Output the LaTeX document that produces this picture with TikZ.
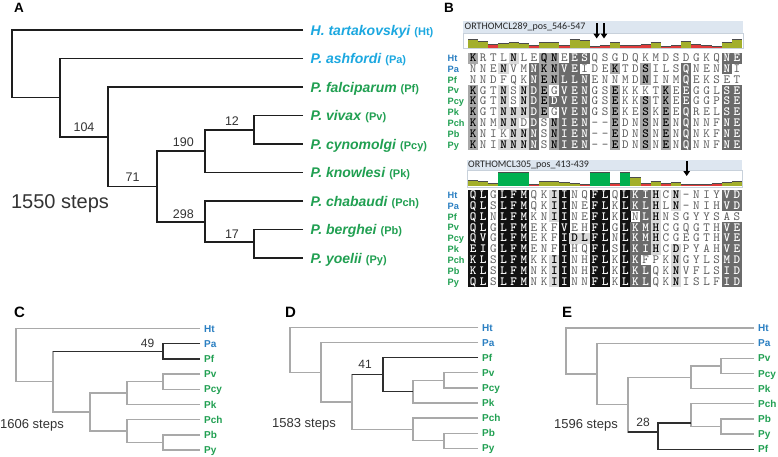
\documentclass[tikz,border=0pt]{standalone}
\usepackage{fontspec}
\setmainfont{Liberation Sans}
\newfontfamily\seqfont{lmmono10-regular.otf}[BoldFont=lmmonolt10-bold.otf]
\newfontfamily\hdrfont{Carlito}
\usepackage{xstring}
\usetikzlibrary{calc, positioning, arrows.meta}
\definecolor{TreeDark}{HTML}{1E1E1E}
\definecolor{TreeGrey}{HTML}{A9A9A9}
\definecolor{TreeHl}{HTML}{2E2E2E}
\definecolor{HaemoBlue}{HTML}{1CA8E0}
\definecolor{TaxonBlue}{HTML}{2A7FC2}
\definecolor{TaxonGreen}{HTML}{21A052}
\definecolor{LabelDark}{HTML}{333333}
\definecolor{BarBg}{HTML}{DDE6F0}
\definecolor{BarFrame}{HTML}{C8D1DB}
\definecolor{HistO}{HTML}{A3AF2B}
\definecolor{HistR}{HTML}{E03B3B}
\definecolor{HistG}{HTML}{00B050}
\definecolor{ShadeA}{HTML}{D9D9D9}
\definecolor{ShadeB}{HTML}{A8A8A8}
\definecolor{ShadeC}{HTML}{6B6B6B}
\definecolor{ShadeD}{HTML}{121212}
\definecolor{SeqGrey}{HTML}{5C5C5C}

\newcommand{\taxon}[2]{\textit{#1} {\fontsize{11}{12}\selectfont(#2)}}

% one alignment row: prefix, row name, y, residues, shade levels
\newcommand{\alnrow}[5]{%
  \foreach \col in {1,...,27}{%
    \StrChar{#4}{\col}[\resid]%
    \StrChar{#5}{\col}[\shv]%
    \ifcase\shv\relax \def\cellbg{white}\def\cellfg{SeqGrey}%
    \or \def\cellbg{ShadeA}\def\cellfg{black}%
    \or \def\cellbg{ShadeB}\def\cellfg{black}%
    \or \def\cellbg{ShadeC}\def\cellfg{white}%
    \else \def\cellbg{ShadeD}\def\cellfg{white}\fi
    \ifnum\shv>0 \fill[\cellbg] ({468+(\col-1)*10.15-0.1}, {#3-5.5}) rectangle ++(10.35,11.05);\fi
    \node[cell, text=\cellfg] (#1#2c\col) at ({468+(\col-0.5)*10.15}, {#3}) {\ifnum\shv>0 \bfseries\fi\resid};
  }}

\begin{document}
\begin{tikzpicture}[x=1pt, y=-1pt,
    treeA/.style={draw=TreeDark, line width=1.6pt},
    br/.style={draw=TreeGrey, line width=1.3pt},
    hl/.style={draw=TreeHl, line width=1.3pt},
    tipA/.style={anchor=west, inner xsep=7.5pt, inner ysep=0pt, text height=10pt, text depth=0pt, font=\bfseries\fontsize{14}{16}\selectfont},
    tip/.style={anchor=west, inner xsep=4pt, inner ysep=0pt, text height=7.2pt, text depth=0pt, font=\bfseries\fontsize{10}{12}\selectfont},
    boot/.style={above=4pt, inner sep=0.5pt, text=LabelDark, font=\fontsize{12.5}{14}\selectfont},
    bootsm/.style={above=4pt, inner sep=0.5pt, text=LabelDark, font=\fontsize{12}{14}\selectfont},
    stepsbig/.style={text=LabelDark, inner sep=0pt, font=\fontsize{20}{22}\selectfont},
    stepssm/.style={anchor=west, text=LabelDark, inner sep=0pt, font=\fontsize{13}{15}\selectfont},
    panel/.style={inner sep=0pt, font=\bfseries\fontsize{15}{17}\selectfont},
    hdrbar/.style={anchor=north west, fill=BarBg, inner sep=0pt},
    hdrtext/.style={anchor=west, inner sep=0pt, text=black!85, font=\hdrfont\fontsize{10}{12}\selectfont},
    rowlab/.style={anchor=west, inner sep=0pt, text height=6.6pt, text depth=0pt, font=\bfseries\fontsize{9.2}{10}\selectfont},
    cell/.style={inner sep=0pt, text height=7pt, text depth=0pt, font=\seqfont\fontsize{12.5}{12}\selectfont},
    seqarrow/.style={-{Triangle[length=5pt, width=6.5pt]}, line width=2.2pt, draw=black}]
  \useasboundingbox[fill=white] (0,0) rectangle (778,456);

  % Panel A
  \node[panel, font=\bfseries\fontsize{13.5}{15}\selectfont] (labA) at (19,8) {A};
  \node[tipA, text=HaemoBlue] (ht) at (303,30) {\taxon{H. tartakovskyi}{Ht}};
  \node[tipA, text=HaemoBlue] (pa) at (303,58.5) {\taxon{P. ashfordi}{Pa}};
  \node[tipA, text=TaxonGreen] (pf) at (303,87) {\taxon{P. falciparum}{Pf}};
  \node[tipA, text=TaxonGreen] (pv) at (303,115.5) {\taxon{P. vivax}{Pv}};
  \node[tipA, text=TaxonGreen] (pcy) at (303,144) {\taxon{P. cynomolgi}{Pcy}};
  \node[tipA, text=TaxonGreen] (pk) at (303,172.5) {\taxon{P. knowlesi}{Pk}};
  \node[tipA, text=TaxonGreen] (pch) at (303,201) {\taxon{P. chabaudi}{Pch}};
  \node[tipA, text=TaxonGreen] (pb) at (303,229.5) {\taxon{P. berghei}{Pb}};
  \node[tipA, text=TaxonGreen] (py) at (303,258) {\taxon{P. yoelii}{Py}};

  \coordinate (rootA) at (12,64);
  \coordinate (n1) at (60,97.6);
  \coordinate (n2) at (108,136.7);
  \coordinate (n3) at (157,186.5);
  \coordinate (n4) at (205,151);
  \coordinate (n5) at (254,129.75);
  \coordinate (n6) at (205,222);
  \coordinate (n7) at (254,242);

  \draw[treeA] (pv.west) -| (n5) |- (pcy.west);
  \draw[treeA] (n5) -| (n4) |- (pk.west);
  \draw[treeA] (pb.west) -| (n7) |- (py.west);
  \draw[treeA] (pch.west) -| (n6) |- (n7);
  \draw[treeA] (n4) -| (n3) |- (n6);
  \draw[treeA] (pf.west) -| (n2) |- (n3);
  \draw[treeA] (pa.west) -| (n1) |- (n2);
  \draw[treeA] (ht.west) -| (rootA) |- (n1);

  \path (n1 |- n2) -- (n2) node[boot, pos=0.5] (bs104) {104};
  \path (n2 |- n3) -- (n3) node[boot, pos=0.5] (bs71) {71};
  \path (n3 |- n4) -- (n4) node[boot, pos=0.55] (bs190) {190};
  \path (n4 |- n5) -- (n5) node[boot, pos=0.55] (bs12) {12};
  \path (n3 |- n6) -- (n6) node[boot, pos=0.55, above=3pt] (bs298) {298};
  \path (n6 |- n7) -- (n7) node[boot, pos=0.55, above=3pt] (bs17) {17};
  \node[stepsbig] (stepsA) at (60,204) {1550 steps};

  % Panel B
  \node[panel, font=\bfseries\fontsize{13.5}{15}\selectfont] (labB) at (449,8) {B};
  \node[hdrbar, minimum width=280pt, minimum height=12pt] (bar1) at (463,21) {};
  \node[hdrtext] (hdr1) at (464.5,27) {ORTHOMCL289\_pos\_546-547};
  \draw[BarFrame, line width=0.6pt] (463,33) rectangle (743,48.5);
  \foreach \hc/\hh [count=\i] in {O/9,O/7,R/4,O/5,O/6,O/5,R/3,O/6,O/6,R/3,O/9,O/8,R/2,R/3,O/6,R/3,R/3,R/4,O/6,R/2,R/3,O/7,R/4,R/3,R/2,O/6,O/9}{
    \fill[Hist\hc] ({468+(\i-1)*10.15},48) rectangle ++(10.15,-\hh);
    \draw[black!70, line width=0.6pt] ({468+(\i-1)*10.15},{48-\hh}) -- ++(10.15,0);
  }
  \coordinate (arrA1) at (596.7,23);
  \coordinate (arrA1e) at (596.7,38.5);
  \coordinate (arrA2) at (604,23);
  \coordinate (arrA2e) at (604,38.5);
  \draw[seqarrow] (arrA1) -- (arrA1e);
  \draw[seqarrow] (arrA2) -- (arrA2e);

  \foreach \rn/\rc/\seq/\shades [count=\rowno] in {
      Ht/TaxonBlue/KRTLNLEQNEESQSGDQKMDSDGKQNE/200010022033000000000000033,
      Pa/TaxonBlue/NNENVMNKNVEIDEKTDSILSQNENNI/000100322330002002000300030,
      Pf/TaxonGreen/NNDFQKNENLLNENNMDNINMQEKSET/000000322333000002000300000,
      Pv/TaxonGreen/KGTNSNDEGVENGSEKKKTKEEGGLSE/200101320333002000020300033,
      Pcy/TaxonGreen/KGTNSNDEDVENGSEKKSTKEEGGPSE/200101323333002002020300033,
      Pk/TaxonGreen/KGTNNNDEGVENGSEKESKEEQRELSE/200111320333002002020300033,
      Pch/TaxonGreen/KNMNNDDSNIEN--EDNSNENQNNFNE/200110302333002002020300033,
      Pb/TaxonGreen/KNIKNNNSNIEN--EDNSNENQNKFNE/200011302333002002020300033,
      Py/TaxonGreen/KNINNNNSNIEN--EDNSNENQNNFNE/200111302333002002020300033}{
    \node[rowlab, text=\rc] (a\rn) at (447.5, {58+(\rowno-1)*10.85}) {\rn};
    \alnrow{a}{\rn}{58+(\rowno-1)*10.85}{\seq}{\shades}
  }

  \node[hdrbar, minimum width=275pt, minimum height=10.5pt] (bar2) at (467,160) {};
  \node[hdrtext] (hdr2) at (468,165.5) {ORTHOMCL305\_pos\_413-439};
  \draw[BarFrame, line width=0.6pt] (467,170.5) rectangle (742,187);
  \foreach \hc/\hh [count=\i] in {O/6,O/5,O/3,G/14,G/14,G/14,R/2,O/5,O/5,O/4,O/3,R/2,G/14,G/14,R/3,G/14,O/9,R/3,O/5,R/3,O/4,R/1.5,R/2,R/2,R/3,O/4,O/5}{
    \fill[Hist\hc] ({468+(\i-1)*10.15},186) rectangle ++(10.15,-\hh);
    \draw[black!70, line width=0.6pt] ({468+(\i-1)*10.15},{186-\hh}) -- ++(10.15,0);
  }
  \coordinate (arrB1) at (686.7,161);
  \coordinate (arrB1e) at (686.7,176);
  \draw[seqarrow] (arrB1) -- (arrB1e);

  \foreach \rn/\rc/\seq/\shades [count=\rowno] in {
      Ht/TaxonBlue/QLGLFMQKIINQFLQLKIHCN-NIYVD/440444001400440433101000033,
      Pa/TaxonBlue/QLSLFMQKIINEFLKLKLHLN-NIHVD/440444001400440433101000033,
      Pf/TaxonGreen/QLNLFMKNIINEFLKLNLHNSGYYSAS/440444001400440403100000000,
      Pv/TaxonGreen/QLGLFMEKFVEHFLGLKMHCGQGTHVE/440444000400440433100000033,
      Pcy/TaxonGreen/QVGLFMEKFIDLFLNLKMHCGEGTHVE/440444000411440433100000033,
      Pk/TaxonGreen/EIGLFMENFIHQFLSLKIHCDPYAHVE/440444000400440433101000033,
      Pch/TaxonGreen/KLSLFMKKIINHFLKLKFPKNGYLSMD/440444001400440430001000033,
      Pb/TaxonGreen/KLSLFMNKIINHFLKLKLQKNVFLSID/440444001400440433001000033,
      Py/TaxonGreen/QLSLFMNKIINNFLKLKLQKNISLFID/440444001400440433001000033}{
    \node[rowlab, text=\rc] (b\rn) at (447.5, {195+(\rowno-1)*10.85}) {\rn};
    \alnrow{b}{\rn}{195+(\rowno-1)*10.85}{\seq}{\shades}
  }

  % Panel C
  \node[panel] (labC) at (19.5,312) {C};
  \foreach \tx/\tc [count=\k from 0] in {Ht/TaxonBlue, Pa/TaxonBlue, Pf/TaxonGreen, Pv/TaxonGreen, Pcy/TaxonGreen, Pk/TaxonGreen, Pch/TaxonGreen, Pb/TaxonGreen, Py/TaxonGreen}
    \node[tip, text=\tc] (c\tx) at (200, {328.5+15.2*\k}) {\tx};
  \coordinate (cR) at (16,350);
  \coordinate (cA) at (163,381.7);
  \coordinate (cB) at (127,393.1);
  \coordinate (cC) at (163,442.5);
  \coordinate (cD) at (127,431.1);
  \coordinate (cE) at (90,412.1);
  \coordinate (cF) at (163,351.3);
  \coordinate (cG) at (53,381.7);
  \draw[br] (cPv.west) -| (cA) |- (cPcy.west);
  \draw[br] (cA) -| (cB) |- (cPk.west);
  \draw[br] (cPb.west) -| (cC) |- (cPy.west);
  \draw[br] (cPch.west) -| (cD) |- (cC);
  \draw[br] (cB) -| (cE) |- (cD);
  \draw[br] (cE) -| (cG) |- (cF);
  \draw[br] (cHt.west) -| (cR) |- (cG);
  \draw[hl] (cPa.west) -| (cF) |- (cPf.west);
  \draw[hl] (cG |- cF) -- (cF);
  \path (cG |- cF) -- (cF) node[bootsm, pos=0.86, above=3pt] (bs49) {49};
  \node[stepssm] (stepsC) at (0,425) {1606 steps};

  % Panel D
  \node[panel] (labD) at (290.5,312.5) {D};
  \foreach \tx/\tc [count=\k from 0] in {Ht/TaxonBlue, Pa/TaxonBlue, Pf/TaxonGreen, Pv/TaxonGreen, Pcy/TaxonGreen, Pk/TaxonGreen, Pch/TaxonGreen, Pb/TaxonGreen, Py/TaxonGreen}
    \node[tip, text=\tc] (d\tx) at (478, {327.5+15.1*\k}) {\tx};
  \coordinate (dR) at (290,350);
  \coordinate (dA) at (444,380.35);
  \coordinate (dB) at (413,391.7);
  \coordinate (dC) at (383,374.7);
  \coordinate (dD) at (444,440.75);
  \coordinate (dE) at (413,429.4);
  \coordinate (dF) at (352,402);
  \coordinate (dG) at (321,372.3);
  \draw[br] (dPv.west) -| (dA) |- (dPcy.west);
  \draw[br] (dA) -| (dB) |- (dPk.west);
  \draw[br] (dPb.west) -| (dD) |- (dPy.west);
  \draw[br] (dPch.west) -| (dE) |- (dD);
  \draw[br] (dC) -| (dF) |- (dE);
  \draw[br] (dPa.west) -| (dG) |- (dF);
  \draw[br] (dHt.west) -| (dR) |- (dG);
  \draw[hl] (dPf.west) -| (dC) |- (dB);
  \draw[hl] (dF |- dC) -- (dC);
  \path (dF |- dC) -- (dC) node[bootsm, pos=0.42, above=6pt] (bs41) {41};
  \node[stepssm] (stepsD) at (272,424) {1583 steps};

  % Panel E
  \node[panel] (labE) at (567,312.5) {E};
  \foreach \tx/\tc [count=\k from 0] in {Ht/TaxonBlue, Pa/TaxonBlue, Pv/TaxonGreen, Pcy/TaxonGreen, Pk/TaxonGreen, Pch/TaxonGreen, Pb/TaxonGreen, Py/TaxonGreen, Pf/TaxonGreen}
    \node[tip, text=\tc] (e\tx) at (754, {328+15.15*\k}) {\tx};
  \coordinate (eR) at (566,350);
  \coordinate (eA) at (721,365.9);
  \coordinate (eB) at (691,377.2);
  \coordinate (eC) at (721,426.5);
  \coordinate (eD) at (691,423);
  \coordinate (eF) at (658,432);
  \coordinate (eG) at (628,404.6);
  \coordinate (eH) at (597,373.9);
  \draw[br] (ePv.west) -| (eA) |- (ePcy.west);
  \draw[br] (eA) -| (eB) |- (ePk.west);
  \draw[br] (ePb.west) -| (eC) |- (ePy.west);
  \draw[br] (ePch.west) -| (eD) |- (eC);
  \draw[br] (eB) -| (eG) |- (eF);
  \draw[br] (ePa.west) -| (eH) |- (eG);
  \draw[br] (eHt.west) -| (eR) |- (eH);
  \draw[hl] (eD) -| (eF) |- (ePf.west);
  \draw[hl] (eG |- eF) -- (eF);
  \path (eG |- eF) -- (eF) node[bootsm, pos=0.5, above=5pt] (bs28) {28};
  \node[stepssm] (stepsE) at (554,425) {1596 steps};
\end{tikzpicture}
\end{document}
